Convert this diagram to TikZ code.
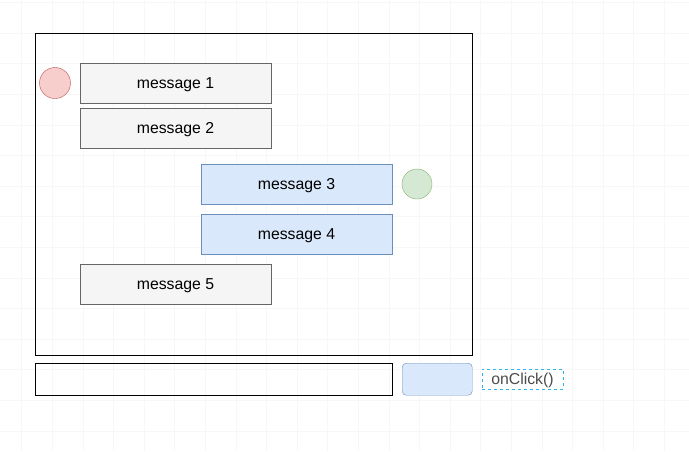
\documentclass[tikz,border=0pt]{standalone}
\usepackage{fontspec}
\setmainfont{Liberation Sans}
\definecolor{greyfill}{HTML}{F5F5F5}
\definecolor{greyline}{HTML}{666666}
\definecolor{bluefill}{HTML}{DAE8FC}
\definecolor{blueline}{HTML}{6C8EBF}
\definecolor{redfill}{HTML}{F8CECC}
\definecolor{redline}{HTML}{B85450}
\definecolor{greenfill}{HTML}{D5E8D4}
\definecolor{greenline}{HTML}{82B366}
\definecolor{selline}{HTML}{29B6F2}
\begin{document}
\begin{tikzpicture}[x=1pt, y=-1pt,
    label text/.style={font=\fontsize{15.8}{18}\selectfont, text height=11.4pt, text depth=0pt},
    msg/.style={draw=greyline, fill=greyfill, minimum width=191pt, minimum height=40pt, label text},
    msgblue/.style={msg, draw=blueline, fill=bluefill},
    dot/.style={circle, minimum size=31pt, inner sep=0pt}]
    \useasboundingbox (0,0) rectangle (689,451);
    \fill [white] (0,0) rectangle (689,451);
    % faint background grid
    \foreach \gx in {0,...,22} \draw [gray!6] (21.5+30.6*\gx, 0) -- (21.5+30.6*\gx, 451);
    \foreach \gy in {-1,...,13} \draw [gray!6] (0, 33+30.6*\gy) -- (689, 33+30.6*\gy);

    \node [draw, minimum width=437pt, minimum height=322pt, anchor=north west] (chat) at (35,33) {};
    \node [msg] (m1) at (175.5,83) {message 1};
    \node [msg] (m2) at (175.5,128) {message 2};
    \node [msgblue] (m3) at (296.5,184) {message 3};
    \node [msgblue] (m4) at (296.5,234) {message 4};
    \node [msg] (m5) at (175.5,284) {message 5};
    \node [dot, draw=redline, fill=redfill] (me) at (55,83) {};
    \node [dot, draw=greenline, fill=greenfill, minimum size=30pt] (you) at (417,184) {};

    \node [draw, minimum width=357pt, minimum height=32pt, anchor=north west] (input) at (35,363) {};
    \node [draw=blueline, fill=bluefill, rounded corners=4pt, minimum width=70pt, minimum height=32pt, anchor=north west] (send) at (402,363) {};
    \node [draw=selline, dashed, minimum width=81pt, minimum height=20pt, text=black!70, label text] (click) at (522.5,379) {onClick()};
\end{tikzpicture}
\end{document}
